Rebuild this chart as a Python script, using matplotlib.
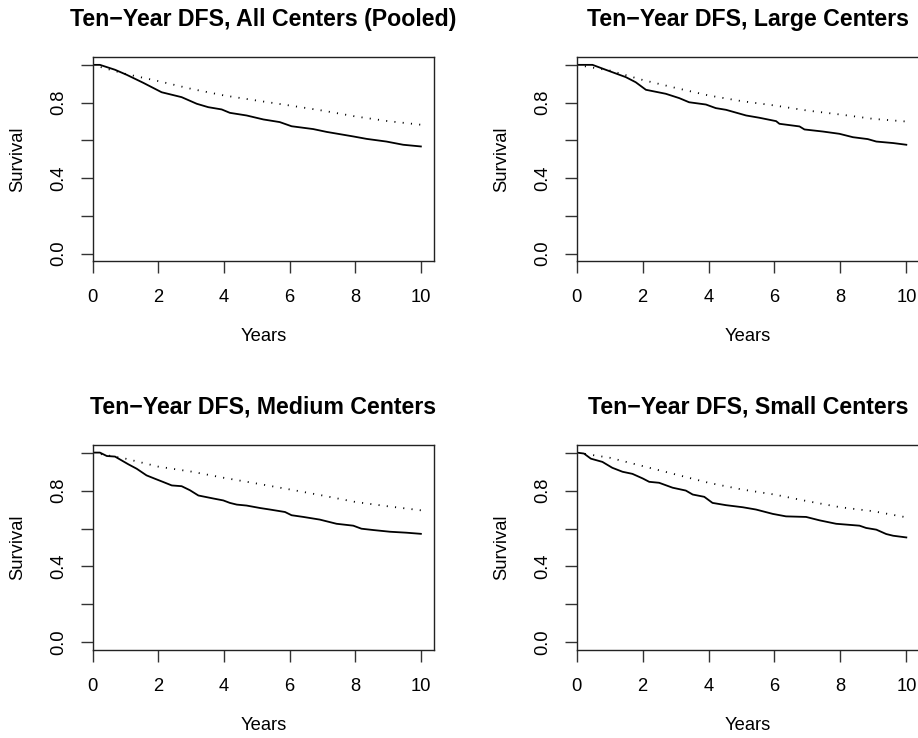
import matplotlib
matplotlib.use("Agg")
import matplotlib.pyplot as plt
import numpy as np

plt.rcParams['font.family'] = ['Liberation Sans', 'DejaVu Sans']

pooled_t = [0, 0.22, 0.68, 1.04, 1.54, 2.1, 2.71, 3.17, 3.52, 3.93, 4.18, 4.69, 5.2,
            5.7, 6.06, 6.72, 7.13, 7.94, 8.35, 8.95, 9.46, 10.0]
pooled_s = [1.0, 1.0, 0.974, 0.947, 0.905, 0.855, 0.829, 0.794, 0.776, 0.764, 0.746,
            0.732, 0.711, 0.697, 0.675, 0.66, 0.645, 0.621, 0.608, 0.594, 0.577, 0.568]
pooled_exp = [1.0, 0.952, 0.914, 0.873, 0.838, 0.811, 0.785, 0.758, 0.727, 0.702, 0.683]

large_t = [0, 0.48, 0.88, 1.49, 1.79, 2.1, 2.7, 3.11, 3.41, 3.92, 4.22, 4.53, 5.14,
           5.54, 6.05, 6.15, 6.76, 6.91, 7.47, 7.97, 8.38, 8.83, 9.09, 9.6, 10.0]
large_s = [1.0, 1.0, 0.974, 0.935, 0.908, 0.868, 0.847, 0.824, 0.802, 0.79, 0.771,
           0.762, 0.732, 0.72, 0.702, 0.688, 0.674, 0.658, 0.647, 0.635, 0.617, 0.607,
           0.594, 0.586, 0.577]
large_exp = [1.0, 0.97, 0.92, 0.878, 0.838, 0.808, 0.785, 0.758, 0.737, 0.714, 0.7]

medium_t = [0, 0.22, 0.43, 0.68, 1.09, 1.34, 1.64, 1.9, 2.15, 2.41, 2.71, 2.96, 3.22,
            3.68, 3.98, 4.18, 4.39, 4.69, 5.1, 5.4, 5.86, 6.06, 6.42, 6.92, 7.43, 7.94,
            8.19, 8.55, 9.06, 9.56, 10.0]
medium_s = [1.0, 1.0, 0.982, 0.979, 0.938, 0.915, 0.88, 0.862, 0.845, 0.827, 0.823,
            0.802, 0.774, 0.758, 0.748, 0.735, 0.726, 0.721, 0.708, 0.7, 0.687, 0.67,
            0.661, 0.647, 0.625, 0.615, 0.599, 0.592, 0.583, 0.578, 0.572]
medium_exp = [1.0, 0.968, 0.926, 0.9, 0.867, 0.837, 0.806, 0.774, 0.74, 0.717, 0.696]

small_t = [0, 0.22, 0.43, 0.78, 1.08, 1.39, 1.69, 2.0, 2.2, 2.5, 2.91, 3.31, 3.52,
           3.87, 4.12, 4.53, 5.04, 5.44, 5.95, 6.35, 6.96, 7.37, 7.87, 8.58, 8.78,
           9.09, 9.39, 9.6, 10.0]
small_s = [1.0, 0.995, 0.968, 0.951, 0.92, 0.899, 0.888, 0.864, 0.846, 0.841, 0.815,
           0.8, 0.779, 0.767, 0.735, 0.723, 0.712, 0.7, 0.677, 0.664, 0.661, 0.643,
           0.625, 0.615, 0.603, 0.594, 0.571, 0.562, 0.553]
small_exp = [1.0, 0.973, 0.929, 0.885, 0.841, 0.806, 0.779, 0.744, 0.712, 0.691, 0.659]

exp_t = [0, 1, 2, 3, 4, 5, 6, 7, 8, 9, 10]

titles = ["Ten\u2212Year DFS, All Centers (Pooled)", "Ten\u2212Year DFS, Large Centers",
          "Ten\u2212Year DFS, Medium Centers", "Ten\u2212Year DFS, Small Centers"]
obs_t = [pooled_t, large_t, medium_t, small_t]
obs_s = [pooled_s, large_s, medium_s, small_s]
exp_s = [pooled_exp, large_exp, medium_exp, small_exp]

W, H = 918, 738
fig = plt.figure(figsize=(W / 100, H / 100), dpi=100)

# panel boxes in pixels: left, top, right, bottom
boxes = [(92.7, 57.3, 434.0, 261.3), (576.7, 57.3, 919.5, 261.3),
         (92.7, 445.0, 434.0, 650.0), (576.7, 445.0, 919.5, 650.0)]

for i in range(4):
    l, t, r, b = boxes[i]
    ax = fig.add_axes([l / W, 1 - b / H, (r - l) / W, (b - t) / H])
    ax.plot(obs_t[i], obs_s[i], color='black', lw=1.3)
    ax.plot(exp_t, exp_s[i], color='black', lw=1.3, linestyle=(0, (0.6, 4.0)))
    ax.set_xlim(0, 10.4)
    ax.set_ylim(-0.04, 1.04)
    ax.set_xticks([0, 2, 4, 6, 8, 10])
    ax.set_yticks([0, 0.2, 0.4, 0.6, 0.8, 1.0])
    ax.set_yticklabels(["0.0", "", "0.4", "", "0.8", ""], rotation=90, va='center')
    ax.tick_params(length=8.6, width=1.0, labelsize=13.2, color='#333333')
    ax.tick_params(axis='x', pad=11.5)
    ax.tick_params(axis='y', pad=9.5)
    for s in ax.spines.values():
        s.set_linewidth(1.0)
        s.set_color('#222222')
    ax.set_title(titles[i], fontsize=16.7, fontweight='bold', pad=22.5)
    ax.set_xlabel("Years", fontsize=13.2, va='center')
    ax.set_ylabel("Survival", fontsize=13.2, va='center')
    ax.xaxis.set_label_coords(0.5, -75.7 / (b - t))
    ax.yaxis.set_label_coords(-75.0 / (r - l), 0.5)

fig.savefig("out.png", dpi=100)
